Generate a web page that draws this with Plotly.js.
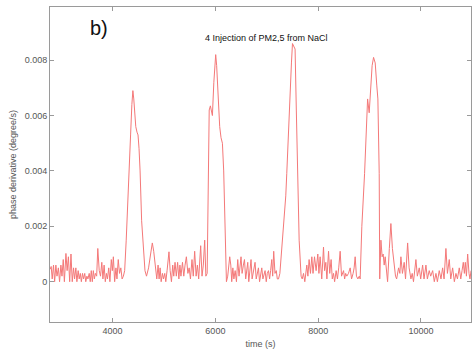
<!DOCTYPE html>
<html>
<head>
<meta charset="utf-8">
<script src="https://cdn.plot.ly/plotly-3.0.1.min.js"></script>
<style>html,body{margin:0;padding:0;background:#fff;}#chart{width:472px;height:350px;}</style>
</head>
<body>
<div id="chart"></div>
<script>
// [time (s), phase derivative (degree/s)]
const baselineA = [[2785,0.00045],[2805,0.00055],[2825,0.0001],[2850,0.0006],[2872,0.0000],[2896,0.0006],[2918,0.0002],[2945,0.0005],[2968,0.0000],[2994,0.0006],[3015,0.0002],[3040,0.0008],[3062,0.0000],[3092,0.00102],[3115,0.0004],[3140,0.0009],[3165,0.0000],[3190,0.0010],[3215,0.0000],[3240,0.0005],[3260,0.0001],[3285,0.0005],[3305,0.0000],[3330,0.0004],[3350,0.0001],[3372,0.0003],[3392,0.0000],[3415,0.0003],[3435,0.0001],[3458,0.0003],[3478,0.0000],[3500,0.0002],[3520,0.0001],[3545,0.0003],[3565,0.0000],[3585,0.0004],[3605,0.0000],[3625,0.0004],[3645,0.0001],[3665,0.0003],[3690,0.0002],[3712,0.0012],[3740,0.0004],[3765,0.0002],[3790,0.0007],[3812,0.0001],[3835,0.0006],[3858,0.0000],[3880,0.0003],[3900,0.0001],[3925,0.0005],[3948,0.0000],[3975,0.0008],[3995,0.0004],[4015,0.0009],[4040,0.0000],[4065,0.0005],[4085,0.0001],[4110,0.0008],[4135,0.0003],[4160,0.0005],[4185,0.0001],[4210,0.0002],[4235,0.0004]];
const peak1 = [[4265,0.0015],[4294,0.0030],[4320,0.0040],[4350,0.0053],[4375,0.0064],[4395,0.0069],[4412,0.0066],[4435,0.0059],[4451,0.0056],[4475,0.0054],[4495,0.0053],[4515,0.0048],[4535,0.0040],[4565,0.0022],[4600,0.0010],[4630,0.0004],[4660,0.0002]];
const baselineB = [[4700,0.0005],[4740,0.0010],[4773,0.0014],[4800,0.0011],[4830,0.0005],[4860,0.0001],[4885,0.0006],[4905,0.0001],[4925,0.0005],[4945,0.0000],[4970,0.0003],[4990,0.0001],[5015,0.0003],[5035,0.0000],[5060,0.0004],[5097,0.00108],[5120,0.0004],[5145,0.0000],[5170,0.0006],[5190,0.0002],[5215,0.0007],[5240,0.0002],[5265,0.0007],[5290,0.0001],[5310,0.0006],[5330,0.0002],[5360,0.0007],[5385,0.0002],[5410,0.0006],[5436,0.0009],[5465,0.0003],[5490,0.0005],[5515,0.0001],[5545,0.0008],[5570,0.0002],[5597,0.0011],[5625,0.0002],[5650,0.0006],[5675,0.0001],[5714,0.0013],[5740,0.0002],[5765,0.0006],[5792,0.0015],[5815,0.0002],[5840,0.0003]];
const peak2 = [[5856,0.0039],[5880,0.0062],[5903,0.00635],[5925,0.0061],[5942,0.0060],[5970,0.0072],[6006,0.0082],[6025,0.0078],[6051,0.0066],[6084,0.0056],[6110,0.0052],[6137,0.0050],[6162,0.0040],[6190,0.0015],[6215,0.0000]];
const baselineC = [[6240,0.0002],[6279,0.0009],[6300,0.0006],[6318,0.0000],[6340,0.0005],[6360,0.0001],[6385,0.0004],[6410,0.0000],[6435,0.0008],[6460,0.0002],[6499,0.0009],[6520,0.0003],[6545,0.0006],[6566,0.0008],[6590,0.0001],[6610,0.0005],[6630,0.0007],[6650,0.0000],[6670,0.0004],[6694,0.0008],[6715,0.0001],[6740,0.0004],[6772,0.0007],[6795,0.0001],[6815,0.0003],[6838,0.0005],[6860,0.0000],[6880,0.0003],[6903,0.0005],[6925,0.0001],[6945,0.0003],[6967,0.0004],[6990,0.0000],[7010,0.0003],[7033,0.0004],[7055,0.0001],[7075,0.0004],[7097,0.0008],[7115,0.0002],[7135,0.0011],[7160,0.0003],[7185,0.0004],[7205,0.0001],[7228,0.0001]];
const peak3 = [[7255,0.0003],[7278,0.0009],[7325,0.0018],[7370,0.0031],[7389,0.0039],[7420,0.0055],[7450,0.0068],[7480,0.0079],[7500,0.0086],[7525,0.0085],[7551,0.0084],[7575,0.0062],[7598,0.0039],[7630,0.0015],[7668,0.0002]];
const baselineD = [[7690,0.0001],[7715,0.0003],[7740,0.0000],[7779,0.0006],[7800,0.0002],[7824,0.0008],[7850,0.0003],[7877,0.0009],[7900,0.0003],[7929,0.0009],[7960,0.0004],[7993,0.0010],[8015,0.0003],[8038,0.0009],[8070,0.0001],[8104,0.00125],[8125,0.0004],[8149,0.0007],[8170,0.0001],[8202,0.0011],[8225,0.0003],[8252,0.0008],[8275,0.0001],[8299,0.0003],[8320,0.0000],[8350,0.0004],[8375,0.0001],[8400,0.0005],[8428,0.0011],[8455,0.0002],[8494,0.0004],[8515,0.0001],[8535,0.0003],[8558,0.0002],[8590,0.0003],[8623,0.0005],[8650,0.0001],[8680,0.0003],[8700,0.0005],[8720,0.0009],[8745,0.0002],[8773,0.0001],[8800,0.0002],[8817,0.0001]];
const peak4 = [[8850,0.0020],[8903,0.0039],[8930,0.0055],[8962,0.0066],[8993,0.0061],[9020,0.0068],[9050,0.0078],[9078,0.0081],[9110,0.0079],[9140,0.0071],[9162,0.0066],[9188,0.0039],[9198,0.0001]];
const baselineE = [[9221,0.0015],[9245,0.0009],[9265,0.0010],[9285,0.0006],[9304,0.0009],[9330,0.0003],[9351,0.0000],[9385,0.0012],[9415,0.0021],[9445,0.0012],[9480,0.0007],[9505,0.0002],[9527,0.0001],[9565,0.0005],[9590,0.0003],[9610,0.0009],[9640,0.0003],[9674,0.0007],[9700,0.0001],[9741,0.0014],[9770,0.0005],[9805,0.0001],[9830,0.0003],[9855,0.0000],[9902,0.0008],[9930,0.0002],[9967,0.0005],[9995,0.0001],[10033,0.0006],[10060,0.0001],[10097,0.0006],[10125,0.0001],[10161,0.0004],[10190,0.0002],[10228,0.0004],[10260,0.0000],[10292,0.0003],[10320,0.0000],[10356,0.0004],[10390,0.0001],[10422,0.0005],[10450,0.0001],[10486,0.0012],[10515,0.0003],[10551,0.0008],[10580,0.0001],[10617,0.0005],[10650,0.0000],[10681,0.0003],[10710,0.0001],[10746,0.0005],[10775,0.0001],[10800,0.0004],[10824,0.0007],[10845,0.0003],[10863,0.0007],[10885,0.0002],[10909,0.0010],[10935,0.0003],[10954,0.0001],[10975,0.0004]];

const xTicks = [4000, 6000, 8000, 10000];
const yTicks = [0, 0.002, 0.004, 0.006, 0.008];
const yTickLabels = ['0', '0.002', '0.004', '0.006', '0.008'];
const chartTitle = '4 Injection of PM2,5 from NaCl';
const panelLabel = 'b)';

const all = [].concat(baselineA, peak1, baselineB, peak2, baselineC, peak3, baselineD, peak4, baselineE);
const trace = {
  x: all.map(p => p[0]),
  y: all.map(p => p[1]),
  type: 'scatter', mode: 'lines',
  line: {color: '#f47878', width: 1},
  hoverinfo: 'skip'
};

const axisCommon = {
  showline: true, linecolor: '#9a9a9a', linewidth: 1, mirror: 'ticks',
  ticks: 'inside', ticklen: 4, tickcolor: '#9a9a9a', tickwidth: 1,
  showgrid: false, zeroline: false,
  tickfont: {family: 'Liberation Sans, Arial, sans-serif', size: 9, color: '#555'}
};

const layout = {
  width: 472, height: 350,
  margin: {l: 50, r: 1, t: 7, b: 28},
  paper_bgcolor: '#fff', plot_bgcolor: '#fff',
  showlegend: false,
  font: {family: 'Liberation Sans, Arial, sans-serif'},
  xaxis: Object.assign({}, axisCommon, {
    range: [2782, 10974], tickvals: xTicks, ticktext: xTicks.map(String),
    title: {text: 'time (s)', font: {size: 9, color: '#555'}, standoff: 5}
  }),
  yaxis: Object.assign({}, axisCommon, {
    range: [-0.001455, 0.00992], tickvals: yTicks, ticktext: yTickLabels,
    title: {text: 'phase derivative (degree/s)', font: {size: 9, color: '#555'}, standoff: 6}
  }),
  annotations: [
    {text: chartTitle, xref: 'paper', yref: 'paper', x: 0.515, y: 1, yshift: -31, xanchor: 'center', yanchor: 'middle', showarrow: false, font: {size: 9, color: '#111'}},
    {text: panelLabel, xref: 'paper', yref: 'paper', x: 0, xshift: 38, y: 1, yshift: -21, xanchor: 'left', yanchor: 'middle', showarrow: false, font: {size: 20, color: '#111'}}
  ]
};

Plotly.newPlot('chart', [trace], layout, {displayModeBar: false, staticPlot: true});
</script>
</body>
</html>
